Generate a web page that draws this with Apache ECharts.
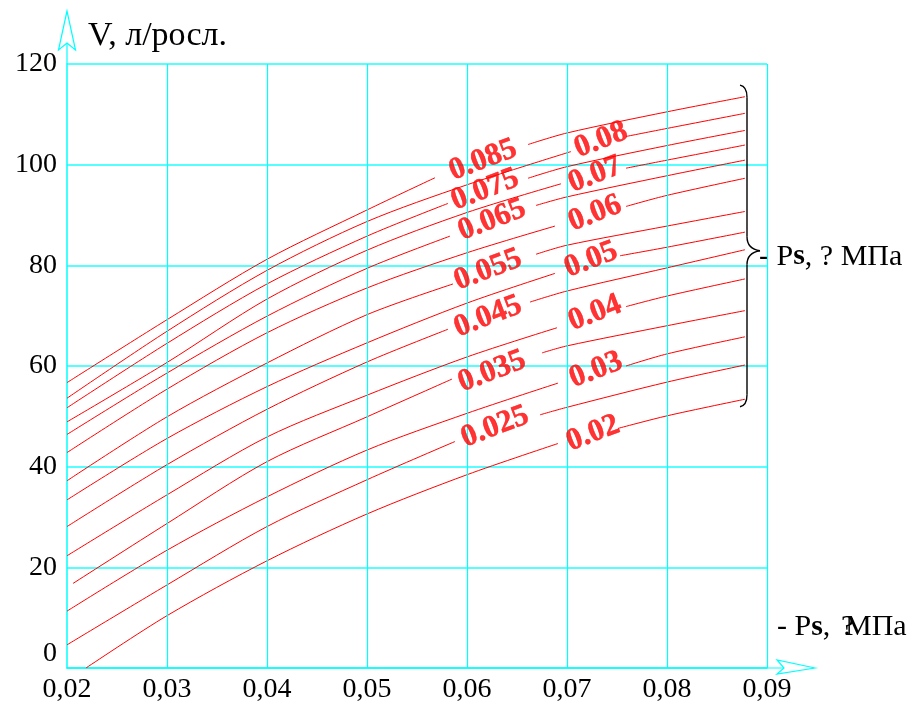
<!DOCTYPE html>
<html>
<head>
<meta charset="utf-8">
<script src="https://cdn.jsdelivr.net/npm/echarts@6/dist/echarts.min.js"></script>
<style>html,body{margin:0;padding:0;background:#fff}#c{width:919px;height:706px}</style>
</head>
<body>
<div id="c"></div>
<script>
// ---- data ----
const xTickValues = [0.02, 0.03, 0.04, 0.05, 0.06, 0.07, 0.08, 0.09];
const yTickValues = [0, 20, 40, 60, 80, 100, 120];
const curveNames = ['0.085','0.08','0.075','0.07','0.065','0.06','0.055','0.05','0.045','0.04','0.035','0.03','0.025','0.02'];

// each curve: [Ps, V] points; null = break where the label sits
const c085 = [[0.02,56.7],[0.03,69.2],[0.04,81.2],[0.05,91.0],[0.0568,97.4],null,[0.0661,104.0],[0.07,106.3],[0.08,110.5],[0.0878,113.5]];
const c080 = [[0.02,53.6],[0.03,66.9],[0.04,79.0],[0.05,88.7],[0.06,96.0],[0.0704,102.6],null,[0.0759,105.6],[0.08,107.2],[0.0878,110.2]];
const c075 = [[0.02,51.7],[0.03,64.5],[0.04,76.3],[0.05,85.8],[0.0581,92.3],null,[0.0661,97.3],[0.07,99.6],[0.08,103.8],[0.0878,106.8]];
const c070 = [[0.02,48.9],[0.03,60.7],[0.04,73.3],[0.05,83.0],[0.06,90.5],[0.0694,96.2],null,[0.0759,99.3],[0.08,100.9],[0.0878,103.9]];
const c065 = [[0.02,46.4],[0.03,58.6],[0.04,69.9],[0.05,79.4],[0.0583,85.8],null,[0.0669,91.9],[0.07,93.6],[0.08,97.8],[0.0878,100.9]];
const c060 = [[0.02,42.8],[0.03,55.4],[0.04,66.6],[0.05,75.5],[0.06,82.5],[0.0688,87.8],null,[0.0759,91.7],[0.08,93.9],[0.0878,97.3]];
const c055 = [[0.02,37.2],[0.03,49.9],[0.04,60.6],[0.05,70.2],[0.0586,76.3],null,[0.0669,82.2],[0.07,84.0],[0.08,87.8],[0.0878,90.7]];
const c050 = [[0.02,33.4],[0.03,45.6],[0.04,55.9],[0.05,64.6],[0.06,72.5],[0.0688,78.4],null,[0.0753,81.9],[0.08,83.6],[0.0878,86.6]];
const c045 = [[0.02,28.1],[0.03,40.4],[0.04,51.4],[0.05,60.8],[0.0581,67.3],null,[0.0663,72.7],[0.07,74.9],[0.08,79.5],[0.0878,83.1]];
const c040 = [[0.02,22.3],[0.03,34.4],[0.04,45.9],[0.05,54.2],[0.06,61.8],[0.069,67.6],null,[0.0759,71.8],[0.08,73.9],[0.0878,77.3]];
const c035 = [[0.0206,16.8],[0.03,28.7],[0.04,41.0],[0.05,49.9],[0.0585,57.4],null,[0.0675,62.6],[0.07,64.0],[0.08,68.0],[0.0878,71.0]];
const c030 = [[0.02,11.3],[0.03,23.4],[0.04,34.0],[0.05,43.3],[0.06,50.6],[0.0691,56.6],null,[0.0759,60.0],[0.08,62.4],[0.0878,65.8]];
const c025 = [[0.02,4.6],[0.03,16.5],[0.04,28.1],[0.05,37.4],[0.0588,45.0],null,[0.0673,50.3],[0.07,51.8],[0.08,56.8],[0.0878,60.2]];
const c020 = [[0.0219,0],[0.03,10.4],[0.04,21.3],[0.05,30.6],[0.06,38.4],[0.0691,44.6],null,[0.0751,47.6],[0.08,50.1],[0.0878,53.4]];
const curves = [c085,c080,c075,c070,c065,c060,c055,c050,c045,c040,c035,c030,c025,c020];

// curve label anchor points (Ps, V)
const labelX = [0.0616,0.0734,0.0618,0.0728,0.0625,0.0728,0.0621,0.0724,0.0621,0.0728,0.0625,0.0729,0.0628,0.0726];
const labelY = [100.9,104.9,95.0,98.0,89.0,90.3,79.1,81.1,69.8,70.5,58.9,59.2,47.9,46.6];

// ---- chart ----
const FONT = '"Liberation Serif", "Times New Roman", serif';
const CYAN = '#00ffff';
const chart = echarts.init(document.getElementById('c'), null, {renderer: 'canvas'});

function splitSegments(pts) {
  const segs = [[]];
  pts.forEach(p => { if (p === null) segs.push([]); else segs[segs.length - 1].push(p); });
  return segs;
}

const series = [];
// vertical grid lines drawn through the x scale
series.push({
  type: 'line', data: [], silent: true, z: 1,
  markLine: {
    silent: true, symbol: ['none', 'none'], label: {show: false}, animation: false,
    lineStyle: {color: CYAN, width: 1.2, type: 'solid', opacity: 1},
    data: xTickValues.slice(1).map(v => ({xAxis: v}))
  }
});
curves.forEach((pts, i) => {
  splitSegments(pts).forEach(seg => {
    series.push({
      type: 'line', name: curveNames[i], data: seg, smooth: 0.3,
      showSymbol: false, symbol: 'none',
      lineStyle: {color: '#ff0000', width: 1}, silent: true, z: 3
    });
  });
});
series.push({
  type: 'scatter', symbolSize: 0, silent: true, z: 5,
  data: curveNames.map((n, i) => ({value: [labelX[i], labelY[i]], name: n})),
  label: {
    show: true, position: 'inside', formatter: p => p.name, rotate: 21,
    color: '#ff0000', fontWeight: 'bold', fontSize: 31, fontFamily: FONT,
    textBorderColor: '#ff0000', textBorderWidth: 0.5
  }
});

chart.setOption({
  animation: false,
  backgroundColor: '#fff',
  grid: {left: 67, right: 152, top: 64, bottom: 38, containLabel: false},
  xAxis: {
    type: 'value', min: 0.02, max: 0.09, interval: 0.01,
    axisLine: {show: true, lineStyle: {color: CYAN, width: 1.5}},
    axisTick: {show: false},
    splitLine: {show: false},
    axisLabel: {
      color: '#000', fontSize: 28, fontFamily: FONT, margin: 8,
      formatter: v => {
        const t = xTickValues.find(a => Math.abs(a - v) < 1e-9);
        return t === undefined ? '' : t.toFixed(2).replace('.', ',');
      }
    }
  },
  yAxis: {
    type: 'value', min: 0, max: 120, interval: 20,
    axisLine: {show: true, lineStyle: {color: CYAN, width: 1.5}},
    axisTick: {show: false},
    splitLine: {show: true, lineStyle: {color: '#55ffff', width: 2}},
    axisLabel: {
      color: '#000', fontSize: 28, fontFamily: FONT, margin: 10,
      formatter: v => {
        const t = yTickValues.find(a => Math.abs(a - v) < 1e-9);
        if (t === undefined) return '';
        return t === 0 ? '{z|0}' : String(t);
      },
      rich: {z: {fontSize: 28, fontFamily: FONT, color: '#000', padding: [0, 0, 28, 0]}}
    }
  },
  series: series
});

// ---- decorations (arrows, brace, axis names) placed via the chart's own scale ----
const px = (x, y) => chart.convertToPixel({gridIndex: 0}, [x, y]);
const yTopPt = px(0.02, 120), xEndPt = px(0.09, 0);
const bTop = px(0.0880, 115.8), bMid = px(0.0880, 82.9), bBot = px(0.0880, 51.9);
const bx = bTop[0], tipX = bx + 13;
const g = [];
const cy = {stroke: CYAN, lineWidth: 1.2, fill: null};
// y axis arrow
g.push({type: 'line', shape: {x1: yTopPt[0], y1: yTopPt[1], x2: yTopPt[0], y2: yTopPt[1] - 52}, style: cy, silent: true});
g.push({type: 'polygon', shape: {points: [[yTopPt[0], yTopPt[1] - 53], [yTopPt[0] - 8.5, yTopPt[1] - 14], [yTopPt[0], yTopPt[1] - 21], [yTopPt[0] + 8.5, yTopPt[1] - 14]]}, style: {stroke: CYAN, lineWidth: 1.2, fill: '#fff'}, silent: true});
// x axis arrow
g.push({type: 'line', shape: {x1: xEndPt[0], y1: xEndPt[1], x2: xEndPt[0] + 47, y2: xEndPt[1]}, style: cy, silent: true});
g.push({type: 'polygon', shape: {points: [[xEndPt[0] + 48, xEndPt[1]], [xEndPt[0] + 10, xEndPt[1] - 8], [xEndPt[0] + 17, xEndPt[1]], [xEndPt[0] + 10, xEndPt[1] + 6]]}, style: {stroke: CYAN, lineWidth: 1.2, fill: '#fff'}, silent: true});
// brace
const bk = {stroke: '#000', lineWidth: 1.4, fill: null};
g.push({type: 'bezierCurve', shape: {x1: bx - 7, y1: bTop[1], cpx1: bx - 2, cpy1: bTop[1] + 1, cpx2: bx, cpy2: bTop[1] + 5, x2: bx, y2: bTop[1] + 12}, style: bk, silent: true});
g.push({type: 'line', shape: {x1: bx, y1: bTop[1] + 12, x2: bx, y2: bMid[1] - 14}, style: bk, silent: true});
g.push({type: 'bezierCurve', shape: {x1: bx, y1: bMid[1] - 14, cpx1: bx, cpy1: bMid[1] - 5, cpx2: bx + 6, cpy2: bMid[1] - 1, x2: tipX, y2: bMid[1]}, style: bk, silent: true});
g.push({type: 'bezierCurve', shape: {x1: tipX, y1: bMid[1], cpx1: bx + 6, cpy1: bMid[1] + 1, cpx2: bx, cpy2: bMid[1] + 5, x2: bx, y2: bMid[1] + 14}, style: bk, silent: true});
g.push({type: 'line', shape: {x1: bx, y1: bMid[1] + 14, x2: bx, y2: bBot[1] - 12}, style: bk, silent: true});
g.push({type: 'bezierCurve', shape: {x1: bx, y1: bBot[1] - 12, cpx1: bx, cpy1: bBot[1] - 5, cpx2: bx - 2, cpy2: bBot[1] - 1, x2: bx - 7, y2: bBot[1]}, style: bk, silent: true});
// texts
const txt = (x, y, text, size) => ({
  type: 'text', x: x, y: y, silent: true,
  style: {text: text, fill: '#000', fontSize: size, fontFamily: FONT, verticalAlign: 'middle', align: 'left',
    rich: {b: {fontWeight: 'bold', fontSize: size, fontFamily: FONT, fill: '#000'}}}
});
g.push(txt(yTopPt[0] + 21, yTopPt[1] - 28, 'V, л/росл.', 34));
g.push(txt(tipX - 1, bMid[1] + 6, '- P{b|s}, ? МПа', 30));
g.push(txt(xEndPt[0] + 10, xEndPt[1] - 41, '- P{b|s},', 30));
g.push(txt(xEndPt[0] + 74, xEndPt[1] - 41, '?', 30));
g.push(txt(xEndPt[0] + 78, xEndPt[1] - 41, 'МПа', 30));
chart.setOption({graphic: {elements: g}});
</script>
</body>
</html>
